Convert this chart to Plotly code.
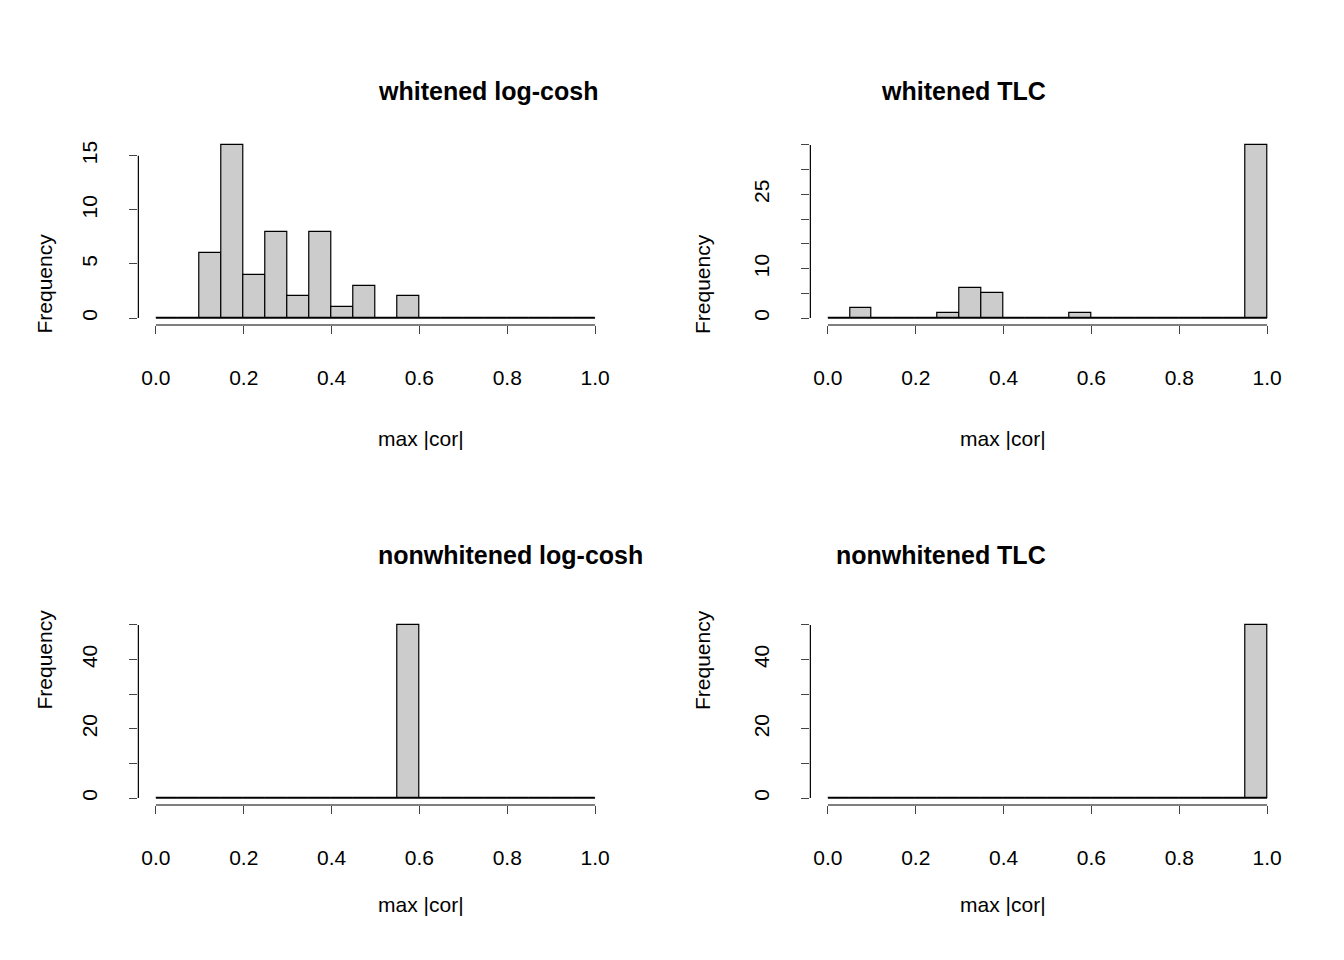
import plotly.graph_objects as go

bin_centers = [0.025 + 0.05 * i for i in range(20)]
wl_counts = [0,0,6,16,4,8,2,8,1,3,0,2,0,0,0,0,0,0,0,0]
wt_counts = [0,2,0,0,0,1,6,5,0,0,0,1,0,0,0,0,0,0,0,35]
nl_counts = [0]*11 + [50] + [0]*8
nt_counts = [0]*19 + [50]
titles = ["whitened log-cosh", "whitened TLC", "nonwhitened log-cosh", "nonwhitened TLC"]
x_ticks = [0, 0.2, 0.4, 0.6, 0.8, 1.0]
x_labels = ["0.0", "0.2", "0.4", "0.6", "0.8", "1.0"]
y_ticks = [[0,5,10,15], list(range(0,36,5)), list(range(0,51,10)), list(range(0,51,10))]
y_labels = [["0","5","10","15"],
            ["0","","10","","","25","",""],
            ["0","","20","","40",""],
            ["0","","20","","40",""]]
y_max = [16, 35, 50, 50]

panels = [wl_counts, wt_counts, nl_counts, nt_counts]
xdom = [[0.0970, 0.4499], [0.5970, 0.9499], [0.0970, 0.4499], [0.5970, 0.9499]]
ydom = [[0.6698, 0.8646], [0.6698, 0.8646], [0.1698, 0.3646], [0.1698, 0.3646]]

FONT = "Liberation Sans, Arial, sans-serif"
fig = go.Figure()
shapes, annots = [], []
for i, counts in enumerate(panels):
    n = "" if i == 0 else str(i + 1)
    xa, ya = "x" + n, "y" + n
    fig.add_trace(go.Bar(x=bin_centers, y=counts, width=0.05, xaxis=xa, yaxis=ya,
                         marker=dict(color="#CCCCCC", line=dict(color="black", width=1.2)),
                         showlegend=False))
    fig.add_trace(go.Scatter(x=[0, 1], y=[0, 0], mode="lines", xaxis=xa, yaxis=ya,
                             line=dict(color="black", width=1.2), showlegend=False))
    ym = y_max[i]
    top = y_ticks[i][-1]
    fig.layout["xaxis" + n] = dict(domain=xdom[i], anchor=ya, range=[-0.04, 1.04], automargin=False,
        tickvals=x_ticks, ticktext=x_labels, ticks="outside", ticklen=8, tickwidth=1.2,
        showgrid=False, zeroline=False, showline=False, ticklabelstandoff=26,
        tickfont=dict(size=21, family=FONT, color="black"))
    fig.layout["yaxis" + n] = dict(domain=ydom[i], anchor=xa, range=[-0.04 * ym, 1.04 * ym], automargin=False,
        tickvals=y_ticks[i], ticktext=y_labels[i], ticks="outside", ticklen=8, tickwidth=1.2,
        tickangle=-90, showgrid=False, zeroline=False, showline=False, ticklabelstandoff=24,
        tickfont=dict(size=21, family=FONT, color="black"))
    shapes.append(dict(type="line", xref=xa, yref=ya + " domain", x0=0, x1=1, y0=0, y1=0,
                       line=dict(color="black", width=1.2)))
    shapes.append(dict(type="line", xref=xa + " domain", yref=ya, x0=0, x1=0, y0=0, y1=top,
                       line=dict(color="black", width=1.2)))
    cx = (xdom[i][0] + xdom[i][1]) / 2
    title_y = 1 - 67 / 960 if i < 2 else 1 - 547 / 960
    lab_y = 1 - 430 / 960 if i < 2 else 1 - 910 / 960
    freq_y = 1 - 224 / 960 if i < 2 else 1 - 704 / 960
    freq_x = 22 / 1344 if i % 2 == 0 else 694 / 1344
    annots.append(dict(text="<b>%s</b>" % titles[i], x=cx, y=title_y, xref="paper", yref="paper",
                       showarrow=False, font=dict(size=25, family=FONT, color="black")))
    annots.append(dict(text="max |cor|", x=cx, y=lab_y, xref="paper", yref="paper",
                       showarrow=False, font=dict(size=21, family=FONT, color="black")))
    annots.append(dict(text="Frequency", x=freq_x, y=freq_y, xref="paper", yref="paper",
                       textangle=-90, showarrow=False, font=dict(size=21, family=FONT, color="black")))

fig.update_layout(width=1344, height=960, margin=dict(l=0, r=0, t=0, b=0, autoexpand=False),
                  plot_bgcolor="white", paper_bgcolor="white", bargap=0,
                  shapes=shapes, annotations=annots)
fig.write_html("out.html")
